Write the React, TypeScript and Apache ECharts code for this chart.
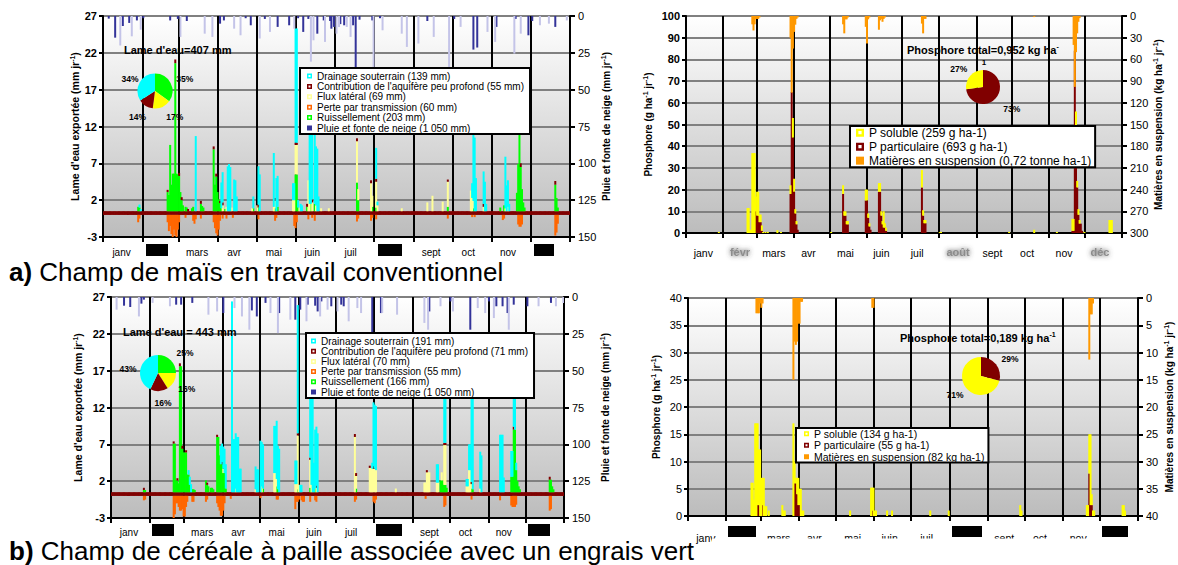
import React, { useEffect, useRef } from "react";
import * as echarts from "echarts";

const FONT = "'Liberation Sans', Arial, Helvetica, sans-serif";

// ---------- calendar / axes ----------
const DAYS_IN_YEAR = 365;
const monthStarts = [0, 31, 59, 90, 120, 151, 181, 212, 243, 273, 304, 334];
const monthLabelDays = [14, 73, 102, 133, 163, 193, 256, 285, 316];
const monthLabels = ["janv", "mars", "avr", "mai", "juin", "juil", "sept", "oct", "nov"];
const hiddenMonths = ["févr", "août", "déc"];

const lameAxis = { min: -3, max: 27, interval: 5 };
const pluieAxis = { min: 0, max: 150, interval: 25 };
const phosTopAxis = { min: 0, max: 100, interval: 10 };
const mesTopAxis = { min: 0, max: 300, interval: 30 };
const phosBotAxis = { min: 0, max: 40, interval: 5 };
const mesBotAxis = { min: 0, max: 40, interval: 5 };

// ---------- colours ----------
const C = {
  drain: "#00ffff",
  contrib: "#800000",
  flux: "#ffff99",
  perte: "#ff6600",
  ruiss: "#00ff00",
  rain: "#333399",
  rainLight: "#c4c4e8",
  pSol: "#ffff00",
  pPart: "#800000",
  mes: "#ff9900",
};

// ---------- names ----------
const tlNames = {
  drain: "Drainage souterrain (139 mm)",
  contrib: "Contribution de l'aquifère peu profond (55 mm)",
  flux: "Flux latéral (69 mm)",
  perte: "Perte par transmission (60 mm)",
  ruiss: "Ruissellement (203 mm)",
  pluie: "Pluie et fonte de neige (1 050 mm)",
};
const blNames = {
  drain: "Drainage souterrain (191 mm)",
  contrib: "Contribution de l'aquifère peu profond (71 mm)",
  flux: "Flux latéral (70 mm)",
  perte: "Perte par transmission (55 mm)",
  ruiss: "Ruissellement (166 mm)",
  pluie: "Pluie et fonte de neige (1 050 mm)",
};
const trNames = {
  sol: "P soluble (259 g ha-1)",
  part: "P particulaire (693 g ha-1)",
  mes: "Matières en suspension (0,72 tonne ha-1)",
};
const brNames = {
  sol: "P soluble (134 g ha-1)",
  part: "P particulaire (55 g ha-1)",
  mes: "Matières en suspension (82 kg ha-1)",
};

// ---------- data: [day of year, value] ----------
type Ev = [number, number][];

// a) maïs – water
const tlBase: [number, number, number][] = [[0, 364, 0.5]];
const tlGreen: Ev = [[27,0.6],[28,0.5],[50,2.6],[51,2.2],[52,9.0],[53,3.6],[54,5.1],[55,5.1],[56,20.1],[57,5.1],[58,5.0],[59,4.8],[60,2.6],[61,1.5],[62,0.8],[64,0.6],[65,0.5],[69,0.4],[70,0.6],[76,1.0],[77,0.7],[78,0.5],[86,8.4],[87,3.6],[88,4.7],[89,2.6],[90,1.6],[91,1.1],[92,0.4],[95,0.3],[117,0.4],[121,0.5],[134,0.4],[136,0.6],[150,5.0],[151,5.0],[152,0.5],[159,0.6],[162,1.0],[165,1.0],[198,3.9],[199,1.5],[210,0.6],[213,0.5],[269,0.6],[289,0.4],[310,0.5],[313,0.8],[323,2.5],[324,6.4],[325,12.6],[326,6.0],[327,3.0],[328,1.2],[329,0.5],[353,3.6],[354,1.8],[355,0.5]];
const tlYellow: Ev = [[93,0.8],[96,0.6],[100,0.5],[116,0.4],[120,0.8],[133,0.6],[134,1.0],[148,1.5],[149,1.5],[150,4.0],[151,4.0],[153,0.5],[160,4.2],[161,1.0],[163,1.2],[166,0.8],[170,0.4],[176,0.4],[198,5.6],[199,1.5],[209,3.8],[210,1.5],[213,3.5],[214,0.8],[233,0.4],[253,1.2],[257,2.1],[265,1.3],[269,3.4],[287,2.8],[288,1.8],[289,1.0],[297,0.6],[314,0.4],[316,0.6]];
const tlCap: Ev = [[50,0.3],[56,0.5],[59,0.4],[61,0.4],[66,0.3],[76,0.4],[86,0.4],[88,0.4],[91,0.3],[93,0.4],[121,0.4],[134,0.4],[150,0.3],[151,0.3],[159,0.4],[163,0.4],[198,0.4],[209,0.4],[213,0.4],[269,0.3],[297,0.4],[325,0.4],[326,0.5],[353,0.5]];
const tlCyan: Ev = [[28,0.4],[29,0.3],[72,10.2],[92,3.5],[93,4.1],[97,6.1],[98,6.4],[99,6.0],[102,4.3],[103,4.2],[104,2.0],[117,1.6],[121,5.2],[122,5.0],[133,7.3],[135,4.5],[136,4.2],[148,2.3],[149,2.3],[150,15.5],[151,15.5],[152,1.0],[154,1.0],[155,0.8],[161,12.0],[162,12.5],[163,11.0],[165,11.5],[166,8.0],[167,8.5],[168,2.0],[213,4.2],[214,0.5],[288,2.0],[289,12.0],[290,10.0],[291,4.5],[297,4.4],[298,4.0],[299,1.0],[314,7.0],[315,3.5],[316,3.6],[317,1.0]];
const tlOrange: Ev = [[27,-1.0],[28,-0.5],[50,-1.0],[51,-2.2],[52,-1.5],[53,-2.6],[54,-3.0],[55,-2.0],[56,-2.8],[57,-3.0],[58,-2.0],[59,-1.0],[64,-0.4],[70,-0.8],[71,-1.2],[72,-0.6],[76,-0.5],[86,-1.0],[87,-1.8],[88,-2.5],[89,-2.8],[90,-2.0],[91,-0.8],[93,-0.5],[96,-0.5],[101,-0.4],[121,-0.6],[134,-0.8],[135,-0.4],[149,-1.5],[150,-1.8],[151,-1.0],[160,-0.6],[163,-0.4],[165,-0.8],[198,-0.9],[199,-0.5],[209,-0.8],[210,-0.4],[213,-0.6],[269,-0.5],[288,-0.3],[290,-0.3],[312,-0.7],[313,-0.5],[324,-1.3],[325,-1.6],[326,-1.6],[327,-1.3],[353,-2.8],[354,-2.4],[355,-1.2]];
const tlRainDark: Ev = [[4,1.8],[9,14.7],[15,6.8],[20,4.7],[26,3],[31,1.5],[52,3],[58,2],[65,3.4],[91,5.2],[94,3],[111,1.5],[115,6.3],[126,2],[136,7.4],[145,6.3],[152,1.5],[156,10.8],[160,2],[167,12],[172,3],[177,3.4],[178,8.6],[180,7.4],[185,5.5],[188,6.3],[195,6.3],[197,35.7],[200,2.5],[210,3],[216,1.5],[253,3.4],[274,2],[289,22.8],[292,21.4],[307,7.4],[322,2],[332,13.1],[335,3.4],[353,7.4]];
const tlRainLight: Ev = [[13,20],[22,13.8],[29,9.3],[60,14.2],[79,12],[85,14.2],[102,8.6],[107,13.1],[122,15.3],[130,10.8],[149,8.6],[162,31],[164,16.5],[173,17.6],[182,12],[184,7.5],[190,7.4],[193,14.2],[211,35.7],[218,9.7],[233,12],[237,21],[246,18.7],[258,14.2],[270,35.7],[279,7.4],[300,10.8],[306,17.6],[321,25.5],[326,12],[341,6.3],[348,5.2],[362,3]];

// a) maïs – phosphore
const trPart: Ev = [[58,10],[59,8],[60,8],[61,5],[62,5],[63,1],[87,18],[88,65],[89,44],[90,19],[91,9],[92,4],[93,1.5],[131,18],[132,8],[133,8],[134,4],[135,4],[150,15],[151,15],[152,7],[153,3],[154,1.5],[161,19],[162,19],[163,8],[164,4],[165,2.5],[166,2.5],[167,1],[197,21],[198,8],[199,4.5],[200,4.5],[323,1],[324,1],[325,84],[326,49],[327,21],[328,8.4],[329,4.3],[330,4.3],[331,1]];
const trSol: Ev = [[27,0.5],[51,11.5],[52,11.5],[53,1.5],[54,1.5],[55,36.8],[56,36.8],[57,36.8],[58,6.8],[59,11],[60,11],[61,3.5],[62,3.5],[63,2.5],[64,0.5],[66,0.5],[68,0.5],[76,1.3],[79,0.5],[87,4],[89,9],[90,6],[91,2],[92,1.5],[121,0.5],[131,4],[132,2],[133,2],[134,1.5],[135,1.5],[150,5],[151,5],[152,2],[153,1.5],[161,4],[162,4],[163,2],[164,1.5],[165,7.5],[166,2],[167,1.5],[197,8],[198,2.5],[199,1.5],[200,1.5],[212,0.5],[213,0.5],[270,0.5],[291,1.5],[310,0.5],[323,5.5],[324,5.5],[326,7],[327,3],[328,2.6],[329,1.7],[333,0.5],[354,6],[355,6],[356,6]];
const trMes: Ev = [[55,11.5],[56,20],[57,11.5],[58,4],[59,4],[60,4],[61,2],[87,30],[88,106],[89,45],[90,22],[91,12],[92,4],[93,2],[131,11.5],[132,24],[133,4.6],[134,4.6],[135,2],[150,15],[151,38],[152,4.6],[153,2],[161,19],[162,6],[163,4],[164,8],[165,4],[166,2],[197,10.5],[198,24],[199,4],[200,4],[291,1.5],[324,40],[325,98],[326,50],[327,24],[328,8],[329,3]];

// b) céréale – water
const blBase: [number, number, number][] = [[0, 364, 0.5]];
const blGreen: Ev = [[26,0.3],[27,0.3],[50,6.6],[51,6.6],[52,1.6],[53,1.6],[54,1.2],[55,17.1],[56,17.1],[57,5.9],[58,5.4],[59,5.4],[60,5.4],[61,2.4],[62,2.4],[63,1.0],[65,0.4],[66,0.4],[67,0.3],[76,1.6],[77,1.0],[78,0.8],[80,0.6],[81,0.6],[82,0.4],[85,7.5],[86,7.5],[87,5.0],[88,3.8],[89,3.8],[90,2.6],[91,2.6],[92,0.5],[122,0.5],[133,0.8],[134,0.4],[150,0.4],[160,0.6],[164,0.5],[197,0.5],[265,1.6],[266,1.6],[267,1.6],[268,1.0],[269,1.0],[270,0.6],[290,0.5],[291,0.4],[322,2.1],[323,2.1],[324,8.5],[325,8.5],[326,3.0],[327,1.5],[328,0.8],[329,0.4],[353,1.7],[354,1.7],[355,0.8],[356,0.4]];
const blYellow: Ev = [[90,0.6],[100,0.5],[116,0.4],[121,0.8],[131,2.6],[132,2.6],[133,1.0],[148,1.1],[149,1.1],[150,7.3],[151,1.0],[160,3.8],[161,1.0],[165,0.6],[196,7.5],[197,1.7],[208,3.3],[209,3.3],[210,3.2],[211,3.2],[212,3.2],[213,3.0],[229,0.5],[252,1.3],[253,1.3],[254,2.7],[255,2.7],[256,2.7],[262,1.3],[263,1.3],[266,1.1],[268,5.4],[269,5.4],[286,0.8],[287,0.8],[288,3.0],[289,3.0],[290,0.6],[297,0.5]];
const blCap: Ev = [[26,0.3],[50,0.3],[53,0.3],[55,0.4],[57,0.4],[60,0.3],[77,0.3],[85,0.3],[89,0.3],[150,0.3],[160,0.3],[165,0.3],[196,0.4],[197,0.4],[208,0.3],[211,0.3],[254,0.3],[268,0.3],[269,0.3],[290,0.3],[324,0.4],[353,0.4]];
const blCyan: Ev = [[62,0.6],[63,1.1],[64,1.1],[88,2.5],[89,2.5],[90,3.0],[91,3.3],[92,3.3],[97,25.9],[98,7.2],[99,7.2],[100,7.5],[101,7.5],[102,7.5],[103,3.2],[104,3.2],[116,3.1],[117,3.1],[118,3.1],[120,7.0],[121,6.0],[122,6.0],[131,6.4],[132,6.4],[133,7.9],[134,5.9],[135,5.9],[148,3.2],[149,3.2],[150,17.4],[152,1.0],[153,1.0],[160,10.5],[161,14.0],[162,13.5],[163,4.0],[164,8.0],[165,8.0],[166,8.0],[210,0.8],[211,8.7],[212,8.7],[213,8.7],[262,2.5],[263,2.5],[268,14.0],[269,9.5],[286,1.0],[287,1.0],[288,3.5],[289,3.5],[290,13.5],[291,13.0],[297,5.0],[298,5.0],[313,7.8],[314,7.8],[315,7.8],[316,2.0],[322,3.5],[323,3.5],[324,6.0],[325,5.0],[326,1.0]];
const blOrange: Ev = [[26,-0.6],[27,-0.5],[50,-3.0],[51,-2.5],[52,-1.0],[53,-1.0],[54,-1.5],[55,-2.0],[56,-2.0],[57,-1.8],[58,-2.8],[59,-2.8],[60,-1.5],[61,-0.8],[65,-0.8],[66,-0.8],[76,-0.8],[77,-0.5],[85,-1.0],[86,-1.5],[87,-2.0],[88,-2.7],[89,-2.7],[90,-2.0],[91,-1.0],[96,-0.4],[120,-0.3],[133,-0.5],[134,-0.5],[148,-1.8],[149,-0.8],[150,-0.8],[151,-0.5],[153,-0.6],[154,-0.8],[155,-0.8],[160,-0.8],[164,-0.6],[165,-0.8],[196,-0.8],[197,-0.5],[211,-0.8],[212,-1.0],[213,-0.5],[253,-0.4],[268,-1.5],[269,-1.3],[290,-0.5],[313,-0.6],[322,-1.3],[323,-1.5],[324,-1.5],[325,-1.5],[326,-1.2],[353,-2.0],[354,-1.8]];
const blRainDark: Ev = [[10,5.9],[15,6.8],[24,4.5],[26,1.8],[52,5.2],[56,5.2],[65,4],[90,10.9],[113,9.1],[117,13.2],[124,4],[135,10.9],[148,15.4],[152,8.6],[158,5.2],[164,5.9],[166,9.8],[169,3],[177,6.3],[185,5.2],[187,6.3],[210,24.5],[217,10.9],[256,9.8],[273,3],[289,22.2],[304,3],[310,6.3],[315,6.3],[319,10.9],[324,5.2],[335,6.3],[354,4]];
const blRainLight: Ev = [[4,8.6],[22,13.2],[33,4],[47,6.3],[78,12],[85,9.8],[99,7.5],[105,13.2],[111,22.2],[128,10.9],[134,24.5],[144,15.4],[157,16.5],[168,13.2],[174,8.6],[182,9.8],[191,16.5],[198,7.5],[201,10.9],[218,10.9],[230,12],[252,17.6],[255,22.2],[265,6.3],[275,9.8],[295,7.5],[301,10.9],[308,14.3],[320,22.2],[344,6.3],[358,6.3],[364,4]];

// b) céréale – phosphore
const brPart: Ev = [[56,2],[57,2],[60,2],[86,6],[87,6],[88,4],[89,2],[90,2],[149,1],[325,7.8],[326,2],[327,2]];
const brSol: Ev = [[51,6.1],[52,6.1],[53,3],[54,17],[55,17],[56,15],[57,10.2],[58,12.2],[59,7],[60,5],[61,7],[62,1.8],[63,1.8],[65,1],[76,2],[77,1],[78,1],[85,17],[86,4],[87,1],[88,3],[89,5],[90,3],[91,5],[92,1],[93,1],[131,1],[148,5.2],[149,4.2],[150,5.2],[151,1],[152,1],[161,1],[165,1],[196,1],[211,1],[269,2],[270,1],[323,2],[324,2],[325,7.2],[326,13],[327,2],[328,1],[329,1],[352,2],[353,2],[354,1]];
const brMes: Ev = [[55,2.8],[56,2.8],[57,2.8],[58,1],[59,1.8],[60,1],[85,15],[86,8],[87,8.6],[88,8],[89,4.7],[90,4.7],[91,0.7],[92,0.7],[149,1.8],[150,1.8],[325,11.3],[326,3],[327,3],[328,1]];

// pies (percent)
const tlPie = [35, 17, 14, 34]; // ruissellement, flux, contribution, drainage
const blPie = [25, 16, 16, 43];
const trPie = [73, 27]; // particulaire, soluble
const brPie = [29, 71];

// ---------- helpers ----------
const days = Array.from({ length: DAYS_IN_YEAR }, (_, i) => String(i));

function daily(ev: Ev): (number | null)[] {
  const a: (number | null)[] = new Array(DAYS_IN_YEAR).fill(null);
  ev.forEach(([d, v]) => {
    a[d] = v;
  });
  return a;
}
function spans(segs: [number, number, number][]): (number | null)[] {
  const a: (number | null)[] = new Array(DAYS_IN_YEAR).fill(null);
  segs.forEach(([s, e, v]) => {
    for (let d = s; d <= e; d++) a[d] = v;
  });
  return a;
}

function bar(name: string, data: any[], color: string, xi: number, yi: number, stack?: string) {
  return {
    type: "bar",
    name,
    data,
    xAxisIndex: xi,
    yAxisIndex: yi,
    stack,
    barWidth: 2,
    barGap: "-100%",
    barCategoryGap: "0%",
    itemStyle: { color },
    silent: true,
    emphasis: { disabled: true },
    animation: false,
  };
}

function xAxisFor(gi: number, margin: number, fontSize: number) {
  return {
    type: "category",
    gridIndex: gi,
    data: days,
    boundaryGap: true,
    axisLine: { show: true, onZero: false, lineStyle: { color: "#000", width: 2 } },
    axisTick: {
      show: true,
      interval: (i: number) => monthStarts.includes(i),
      length: 5,
      lineStyle: { color: "#000", width: 2 },
    },
    axisLabel: {
      interval: (i: number) => monthLabelDays.includes(i),
      formatter: (v: string) => {
        const k = monthLabelDays.indexOf(Number(v));
        return k >= 0 ? monthLabels[k] : "";
      },
      margin,
      fontSize,
      color: "#000",
      fontFamily: FONT,
    },
    splitLine: {
      show: true,
      interval: (i: number) => monthStarts.includes(i) && i > 0,
      lineStyle: { color: "#000", width: 2 },
    },
  };
}

function richName(parts: string[], fs: number) {
  const text = parts.map((p, i) => (i % 2 === 0 ? `{t|${p}}` : `{s|${p}}`)).join("");
  return {
    name: text,
    nameTextStyle: {
      rich: {
        t: { fontSize: fs, fontWeight: "bold", fontFamily: FONT, color: "#000", lineHeight: fs + 3 },
        s: { fontSize: 7, fontWeight: "bold", fontFamily: FONT, color: "#000", verticalAlign: "top", lineHeight: fs + 3 },
      },
    },
  };
}

function yAxisFor(
  gi: number,
  pos: "left" | "right",
  ax: { min: number; max: number; interval: number },
  nameParts: string[],
  nameGap: number,
  opts: { bold?: boolean; inverse?: boolean; split?: boolean; margin: number; nameSize: number }
) {
  return {
    type: "value",
    gridIndex: gi,
    position: pos,
    min: ax.min,
    max: ax.max,
    interval: ax.interval,
    inverse: !!opts.inverse,
    axisLine: { show: true, lineStyle: { color: "#000", width: 2 } },
    axisTick: { show: true, length: pos === "left" ? 4 : 5, lineStyle: { color: "#000", width: 2 } },
    axisLabel: {
      color: "#000",
      fontSize: 11,
      fontWeight: opts.bold ? "bold" : "normal",
      fontFamily: FONT,
      margin: opts.margin,
    },
    splitLine: { show: !!opts.split, lineStyle: { color: "#808080", width: 2 } },
    nameLocation: "middle",
    nameRotate: 90,
    nameGap,
    ...richName(nameParts, opts.nameSize),
  };
}

const HOLE = "path://M0,0H10V10H0ZM3,3V7H7V3Z";

function legendFor(
  left: number,
  top: number,
  items: [string, boolean][],
  fontSize: number,
  lineHeight: number,
  itemSize: number,
  padding: number[],
  gap: number
) {
  return {
    show: true,
    left,
    top,
    orient: "vertical",
    itemWidth: itemSize,
    itemHeight: itemSize,
    itemGap: gap,
    padding,
    borderColor: "#000",
    borderWidth: 2,
    borderRadius: 0,
    backgroundColor: "#fff",
    selectedMode: false,
    z: 10,
    textStyle: { fontSize, lineHeight, color: "#000", fontFamily: FONT },
    data: items.map(([name, hole]) => ({ name, icon: hole ? HOLE : "rect" })),
  };
}

function pieFor(center: number[], r: number, values: number[], colors: string[], tag: string) {
  return {
    type: "pie",
    center,
    radius: r,
    startAngle: 90,
    clockwise: true,
    silent: true,
    z: 5,
    label: { show: false },
    labelLine: { show: false },
    emphasis: { disabled: true },
    animation: false,
    data: values.map((v, i) => ({ value: v, name: `${tag}${i}`, itemStyle: { color: colors[i] } })),
  };
}

function txt(x: number, y: number, text: string, fontSize: number, fontWeight: string, align = "left", extra: any = {}) {
  return {
    type: "text",
    x,
    y,
    z: 60,
    silent: true,
    style: {
      text,
      fill: "#000",
      fontFamily: FONT,
      fontSize,
      fontWeight,
      align,
      verticalAlign: "middle",
      ...extra,
    },
  };
}
const pct = (x: number, y: number, t: string) => txt(x, y, t, 8.5, "bold", "center");
const box = (x: number, y: number, w: number, h: number, fill = "#000") => ({
  type: "rect",
  z: 55,
  silent: true,
  shape: { x, y, width: w, height: h },
  style: { fill },
});
const supRich = {
  m: { fontSize: 11, fontWeight: "bold", fontFamily: FONT, fill: "#000", lineHeight: 14 },
  s: { fontSize: 7, fontWeight: "bold", fontFamily: FONT, fill: "#000", verticalAlign: "top", lineHeight: 14 },
};
const blurLabel = (x: number, y: number, t: string) =>
  txt(x, y, t, 11, "bold", "center", { fill: "#8c8c8c", textShadowBlur: 5, textShadowColor: "#444" });

function bg() {
  return new echarts.graphic.LinearGradient(0, 0, 0, 1, [
    { offset: 0, color: "#ffffff" },
    { offset: 1, color: "#bcbcbc" },
  ]);
}

function waterSeries(
  xi: number,
  yL: number,
  yR: number,
  key: string,
  names: typeof tlNames,
  d: { base: [number, number, number][]; green: Ev; yellow: Ev; cap: Ev; cyan: Ev; orange: Ev; rainDark: Ev; rainLight: Ev }
) {
  return [
    bar(names.contrib, spans(d.base), C.contrib, xi, yL, key),
    bar(names.ruiss, daily(d.green), C.ruiss, xi, yL, key),
    bar(names.flux, daily(d.yellow), C.flux, xi, yL, key),
    bar(names.contrib, daily(d.cap), C.contrib, xi, yL, key),
    bar(names.drain, daily(d.cyan), C.drain, xi, yL, key),
    bar(names.perte, daily(d.orange), C.perte, xi, yL, key),
    bar(names.pluie, daily(d.rainDark), C.rain, xi, yR, key + "r"),
    bar(names.pluie, daily(d.rainLight), C.rainLight, xi, yR, key + "l"),
  ];
}

function phosSeries(xi: number, yL: number, yR: number, key: string, names: typeof trNames, part: Ev, sol: Ev, mes: Ev) {
  return [
    bar(names.part, daily(part), C.pPart, xi, yL, key),
    bar(names.sol, daily(sol), C.pSol, xi, yL, key),
    bar(names.mes, daily(mes), C.mes, xi, yR, key + "m"),
  ];
}

function gridFor(left: number, top: number, width: number, height: number) {
  return {
    left,
    top,
    width,
    height,
    containLabel: false,
    outerBoundsMode: "none",
    show: true,
    borderColor: "#000",
    borderWidth: 2,
    backgroundColor: bg(),
  };
}

function buildOption() {
  const lameName = ["Lame d'eau exportée (mm jr", "-1", ")"];
  const pluieName = ["Pluie et fonte de neige (mm jr", "-1", ")"];
  const phosName = ["Phosphore (g ha", "-1", " jr", "-1", ")"];
  const mesName = ["Matières en suspension (kg ha", "-1", " jr", "-1", ")"];

  return {
    animation: false,
    textStyle: { fontFamily: FONT },
    grid: [gridFor(103, 16, 467, 221), gridFor(686, 16, 436, 217), gridFor(111, 297, 453, 221), gridFor(688, 298, 450, 218)],
    xAxis: [xAxisFor(0, 10, 10), xAxisFor(1, 14, 10.5), xAxisFor(2, 9, 10), xAxisFor(3, 16, 10.5)],
    yAxis: [
      yAxisFor(0, "left", lameAxis, lameName, 20, { bold: true, split: true, margin: 6, nameSize: 10.5 }),
      yAxisFor(0, "right", pluieAxis, pluieName, 30, { inverse: true, margin: 8, nameSize: 10 }),
      yAxisFor(1, "left", phosTopAxis, phosName, 31, { bold: true, split: true, margin: 6, nameSize: 10 }),
      yAxisFor(1, "right", mesTopAxis, mesName, 29, { inverse: true, margin: 8, nameSize: 10 }),
      yAxisFor(2, "left", lameAxis, lameName, 26, { bold: true, split: true, margin: 6, nameSize: 10.5 }),
      yAxisFor(2, "right", pluieAxis, pluieName, 35, { inverse: true, margin: 8, nameSize: 10 }),
      yAxisFor(3, "left", phosBotAxis, phosName, 25, { split: true, margin: 6, nameSize: 10 }),
      yAxisFor(3, "right", mesBotAxis, mesName, 25, { inverse: true, margin: 8, nameSize: 10 }),
    ],
    legend: [
      legendFor(
        300,
        68,
        [
          [tlNames.drain, true],
          [tlNames.contrib, true],
          [tlNames.flux, true],
          [tlNames.perte, true],
          [tlNames.ruiss, true],
          [tlNames.pluie, false],
        ],
        10,
        10,
        5,
        [3, 6, 1, 7],
        0.4
      ),
      legendFor(
        850,
        126,
        [
          [trNames.sol, true],
          [trNames.part, true],
          [trNames.mes, false],
        ],
        12,
        13.3,
        8,
        [0, 4, 0, 6],
        0.7
      ),
      legendFor(
        306,
        333,
        [
          [blNames.drain, true],
          [blNames.contrib, true],
          [blNames.flux, true],
          [blNames.perte, true],
          [blNames.ruiss, true],
          [blNames.pluie, false],
        ],
        10,
        10,
        5,
        [3, 6, 1, 5],
        0.2
      ),
      legendFor(
        796,
        428,
        [
          [brNames.sol, true],
          [brNames.part, true],
          [brNames.mes, false],
        ],
        10.5,
        11.5,
        5,
        [0, 4, 0, 8],
        0
      ),
    ],
    series: [
      ...waterSeries(0, 0, 1, "tl", tlNames, {
        base: tlBase,
        green: tlGreen,
        yellow: tlYellow,
        cap: tlCap,
        cyan: tlCyan,
        orange: tlOrange,
        rainDark: tlRainDark,
        rainLight: tlRainLight,
      }),
      ...phosSeries(1, 2, 3, "tr", trNames, trPart, trSol, trMes),
      ...waterSeries(2, 4, 5, "bl", blNames, {
        base: blBase,
        green: blGreen,
        yellow: blYellow,
        cap: blCap,
        cyan: blCyan,
        orange: blOrange,
        rainDark: blRainDark,
        rainLight: blRainLight,
      }),
      ...phosSeries(3, 6, 7, "br", brNames, brPart, brSol, brMes),
      pieFor([155, 91], 17.5, tlPie, [C.ruiss, "#ffff00", C.contrib, C.drain], "pa"),
      pieFor([983, 87], 17, trPie, [C.pPart, C.pSol], "pb"),
      pieFor([158, 373], 18, blPie, [C.ruiss, "#ffff00", C.contrib, C.drain], "pc"),
      pieFor([981, 376], 19, brPie, [C.pPart, C.pSol], "pd"),
    ],
    graphic: [
      // hidden month labels
      box(146, 244, 22, 12),
      box(378, 244, 24, 12),
      box(534, 244, 20, 12),
      box(152, 524, 22, 12),
      box(376, 524, 26, 12),
      box(528, 524, 22, 12),
      box(728, 526, 28, 11),
      box(952, 526, 30, 11),
      box(1102, 526, 26, 11),
      blurLabel(740, 252, hiddenMonths[0]),
      blurLabel(958, 252, hiddenMonths[1]),
      blurLabel(1100, 252, hiddenMonths[2]),
      // clip of the lower right month labels
      { type: "rect", z: 50, silent: true, shape: { x: 712, y: 538.5, width: 466, height: 27 }, style: { fill: "#fff" } },
      // captions
      txt(9, 272, "{b|a)} Champ de maïs en travail conventionnel", 26, "normal", "left", {
        rich: { b: { fontSize: 26, fontWeight: "bold", fontFamily: FONT, fill: "#000" } },
      }),
      txt(9, 551, "{b|b)} Champ de céréale à paille associée avec un engrais vert", 26, "normal", "left", {
        rich: { b: { fontSize: 26, fontWeight: "bold", fontFamily: FONT, fill: "#000" } },
      }),
      // totals
      txt(124, 50, "Lame d'eau=407 mm", 11, "bold"),
      txt(123, 332, "Lame d'eau = 443 mm", 11, "bold"),
      txt(907, 50, "{m|Phosphore total=0,952 kg ha}{s|-}", 11, "bold", "left", { rich: supRich }),
      txt(984, 62, "1", 8, "bold", "center"),
      txt(900, 338, "{m|Phosphore total=0,189 kg ha}{s|-1}", 11, "bold", "left", { rich: supRich }),
      // pie percentages
      pct(130, 79, "34%"),
      pct(184.7, 79, "35%"),
      pct(137.5, 117, "14%"),
      pct(174.7, 117, "17%"),
      pct(958.7, 69, "27%"),
      pct(1011.7, 109, "73%"),
      pct(128, 369, "43%"),
      pct(185, 353, "25%"),
      pct(186.7, 389, "16%"),
      pct(163, 403, "16%"),
      pct(1010, 359, "29%"),
      pct(955, 395, "71%"),
    ],
  };
}

export default function App() {
  const ref = useRef<HTMLDivElement>(null);
  useEffect(() => {
    if (!ref.current) return;
    const chart = echarts.init(ref.current, undefined, { renderer: "svg" });
    chart.setOption(buildOption() as any);
    return () => chart.dispose();
  }, []);
  return (
    <div
      ref={ref}
      style={{ position: "absolute", left: 0, top: 0, width: 1178, height: 565, background: "#fff" }}
    />
  );
}
